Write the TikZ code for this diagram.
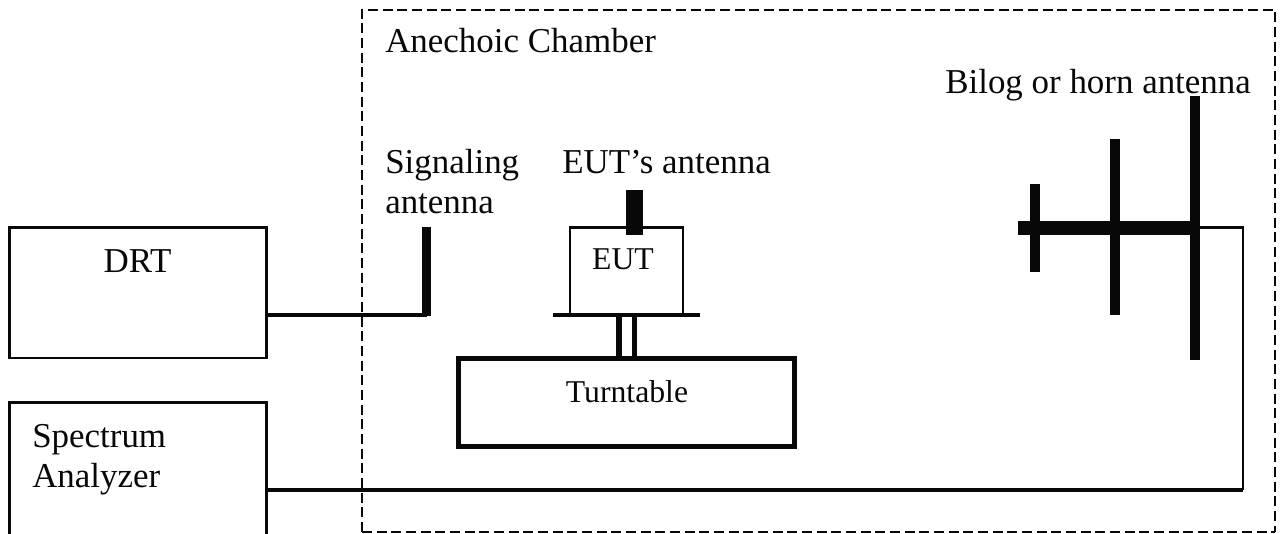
\documentclass[tikz,border=0pt]{standalone}
\usepackage{fontspec}
\setmainfont{Liberation Serif}
\definecolor{ink}{RGB}{8,8,8}
\tikzset{
  x=0.75pt,y=-0.75pt,
  label text/.style={inner sep=0pt,text=ink,font=\fontsize{26.2}{30}\selectfont,anchor=base west},
  small text/.style={inner sep=0pt,text=ink,font=\fontsize{23.8}{27}\selectfont,anchor=base},
  thinbox/.style={draw=ink,line width=1.7pt,inner sep=0pt,outer sep=0pt,anchor=north west},
  bar/.style={fill=ink,draw=none,inner sep=0pt,outer sep=0pt,anchor=north west},
  wire/.style={draw=ink,line width=3.2pt},
  chamber line/.style={draw=ink,dash pattern=on 7.6pt off 3.4pt},
}
\begin{document}
\begin{tikzpicture}
\useasboundingbox[fill=white] (0,0) rectangle (1284,533);
\coordinate (ch1) at (362,10);
\coordinate (ch2) at (1275,10);
\coordinate (ch3) at (1275,532);
\coordinate (ch4) at (362,532);
\draw[chamber line,line width=1.7pt] (ch4) -- (ch1) -- (ch2) -- (ch3);
\draw[chamber line,line width=1pt] (ch4) -- (ch3);
\node[label text] (chamber) at (385,52) {Anechoic Chamber};
\node[label text] (bilog) at (945,93) {Bilog or horn antenna};
\node[label text] (sig1) at (385,173) {Signaling};
\node[label text] (sig2) at (385,213) {antenna};
\node[label text] (eutant) at (562,173) {EUT’s antenna};
% boxes
\node[thinbox,minimum width=192.75pt,minimum height=98pt] (drt) at (9.5,227.5) {};
\node[label text,anchor=base] (drtt) at (137.5,272) {DRT};
\node[thinbox,minimum width=192.75pt,minimum height=99.4pt] (sa) at (9.5,402.5) {};
\node[label text] (sat1) at (32,447) {Spectrum};
\node[label text] (sat2) at (32,487) {Analyzer};
\node[thinbox,minimum width=84.75pt,minimum height=65.6pt] (eut) at (570,227.5) {};
\node[small text] (eutt) at (623,269) {EUT};
\node[thinbox,line width=3.5pt,minimum width=252.3pt,minimum height=66.3pt] (tt) at (458.3,358.3) {};
\node[small text] (ttt) at (627,402) {Turntable};
% EUT platform and legs
\coordinate (pl) at (553,315); \coordinate (pr) at (699.5,315);
\draw[draw=ink,line width=3.4pt] (pl) -- (pr);
\draw[draw=ink,line width=4.3pt] (619,315) -- (619,358);
\draw[draw=ink,line width=3.6pt] (634.5,315) -- (634.5,358);
% antennas
\node[bar,minimum width=13pt,minimum height=33.75pt] (eutbar) at (626,190) {};
\node[bar,minimum width=7pt,minimum height=67pt] (sigbar) at (421.5,227) {};
\coordinate (sigend) at (427,315);
\draw[wire] (drt.east |- sigend) -- (sigend);
% bilog
\node[bar,minimum width=136.5pt,minimum height=10.5pt] (boom) at (1018,221) {};
\node[bar,minimum width=7.5pt,minimum height=66pt] (el1) at (1030,184) {};
\node[bar,minimum width=7.5pt,minimum height=132pt] (el2) at (1110,139) {};
\node[bar,minimum width=7.5pt,minimum height=198pt] (el3) at (1190,96) {};
\coordinate (c1) at (1243,227.5);
\coordinate (c2) at (1243,490);
\draw[draw=ink,line width=2pt] (el3.east |- c1) -- (c1) -- (c2);
\draw[wire,line width=3.4pt] (sa.east |- c2) -- (c2);
\end{tikzpicture}
\end{document}
